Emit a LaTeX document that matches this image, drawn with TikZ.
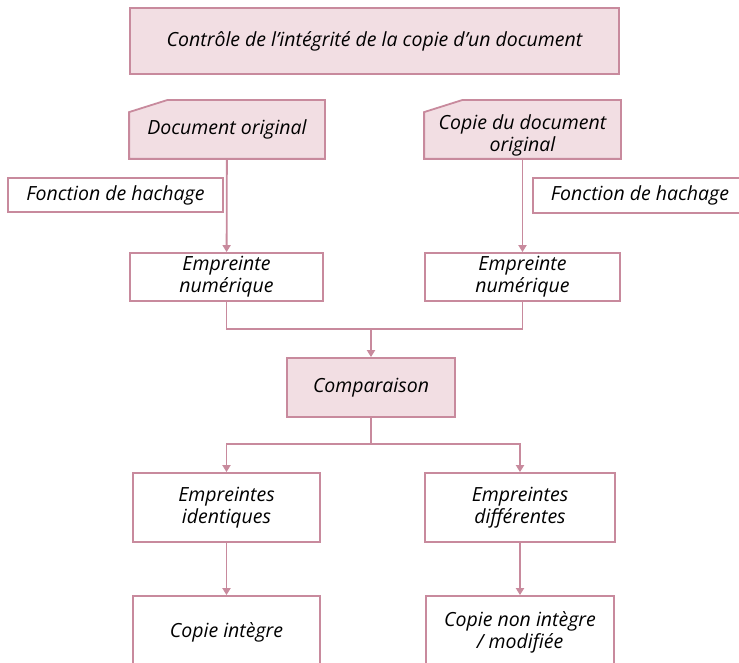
\documentclass[tikz,border=0pt]{standalone}
\usepackage{fontspec}
\setmainfont{Open Sans}
\usetikzlibrary{arrows.meta,backgrounds}
\definecolor{bord}{HTML}{C88A9D}
\definecolor{rose}{HTML}{F2DEE3}
\begin{document}
\begin{tikzpicture}[x=1pt,y=-1pt,
 box/.style={draw=bord,line width=1.8pt,fill=white,align=center,
   font=\itshape\fontsize{19.5}{22}\selectfont,inner sep=0pt},
 pink/.style={box,fill=rose},
 snip/.style={box,draw=none,fill=none},
 snipshape/.style={draw=bord,line width=1.8pt,fill=rose},
 arr/.style={draw=bord,line width=1.8pt,-{Triangle[width=8pt,length=7pt]}},
 ln/.style={draw=bord,line width=1.8pt}]
\useasboundingbox (0,0) rectangle (739,663);
\node[pink,minimum width=489,minimum height=66] (title) at (374.5,41)
  {Contrôle de l’intégrité de la copie d’un document};
\node[snip,minimum width=194,minimum height=57] (doc) at (227,129.5) {Document original};
\node[snip,minimum width=195,minimum height=57] (copy) at (522.5,129.5) {};
\node[snip] (copyt) at (522.5,135) {Copie du document\\original};
\begin{scope}[on background layer]
\draw[snipshape] (doc.north west) ++(0,12) -- ++(38,-12) -- (doc.north east)
  -- (doc.south east) -- (doc.south west) -- cycle;
\draw[snipshape] (copy.north west) ++(0,12) -- ++(38,-12) -- (copy.north east)
  -- (copy.south east) -- (copy.south west) -- cycle;
\end{scope}
\node[box,minimum width=215,minimum height=34] (h1) at (115.5,195) {Fonction de hachage};
\node[box,minimum width=214,minimum height=35] (h2) at (640,195.5) {Fonction de hachage};
\node[box,minimum width=193,minimum height=48] (e1) at (226.5,277) {Empreinte\\numérique};
\node[box,minimum width=195,minimum height=48] (e2) at (522.5,277) {Empreinte\\numérique};
\node[pink,minimum width=168,minimum height=59] (comp) at (371,387.5) {Comparaison};
\node[box,minimum width=187,minimum height=69] (id) at (226.5,507.5) {Empreintes\\identiques};
\node[box,minimum width=190,minimum height=69] (df) at (520,507.5) {Empreintes\\différentes};
\node[box,minimum width=187,minimum height=72] (ci) at (226.5,632) {Copie intègre};
\node[box,minimum width=188,minimum height=72] (cn) at (520,632) {Copie non intègre\\/ modifiée};
\coordinate (j1) at (371,329);
\coordinate (j2) at (371,444);
\draw[arr] (doc) -- (e1);
\draw[arr] (copy) -- (e2);
\draw[ln] (e1.south) |- (j1);
\draw[ln] (e2.south) |- (j1);
\draw[arr] (j1) -- (comp.north);
\draw[ln] (comp.south) -- (j2);
\draw[arr] (j2) -| (id.north);
\draw[arr] (j2) -| (df.north);
\draw[arr] (id) -- (ci);
\draw[arr] (df) -- (cn);
\end{tikzpicture}
\end{document}
